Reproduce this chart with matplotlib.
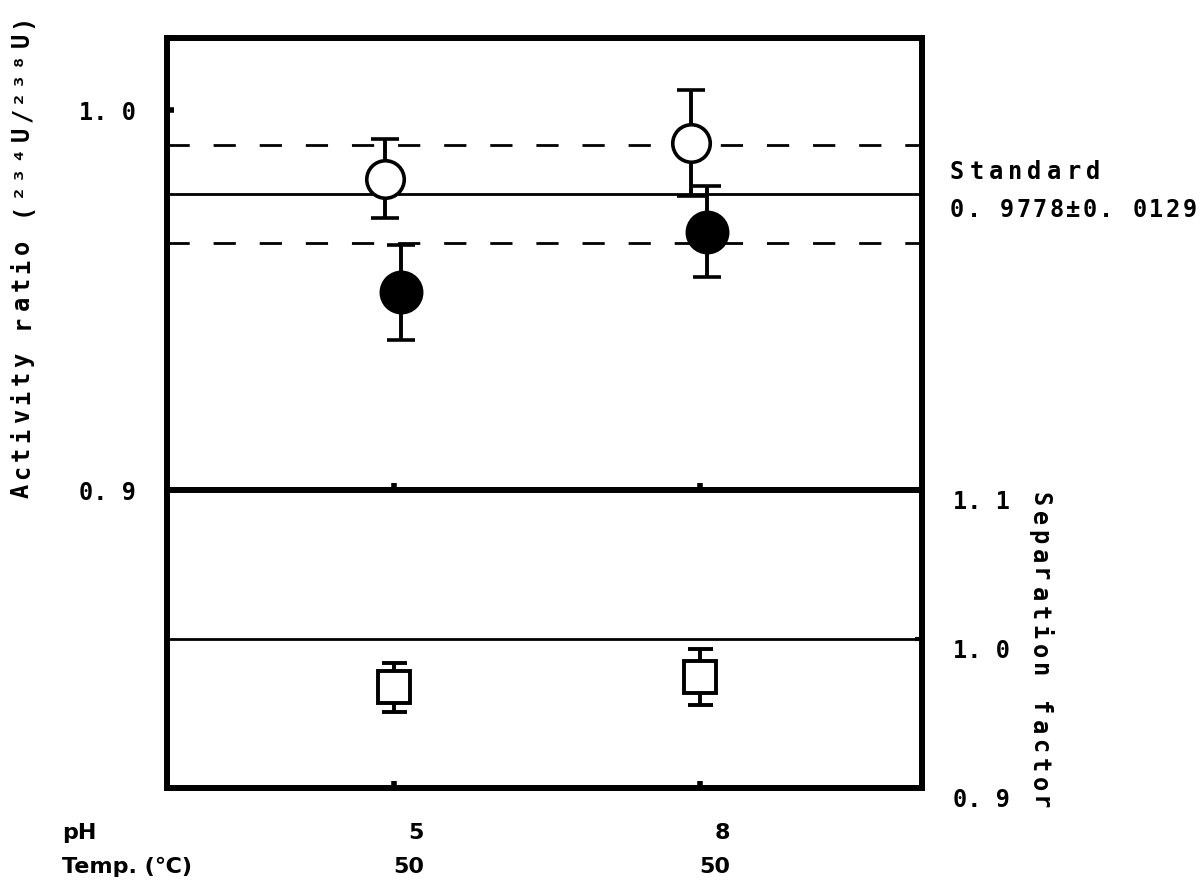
import matplotlib
matplotlib.use("Agg")
import matplotlib.pyplot as plt
from matplotlib import transforms as mtransforms

# conditions
x_pos = [1, 2]
ph_labels = ["5", "8"]
temp_labels = ["50", "50"]

# activity ratio 234U/238U
open_vals = [0.982, 0.9913]
open_err = [0.0104, 0.014]
filled_vals = [0.952, 0.968]
filled_err = [0.0125, 0.012]

# standard value and its spread
standard = 0.9778
standard_sd = 0.0129

# separation factor
sep_vals = [0.9675, 0.9745]
sep_err = [0.0165, 0.0185]

W, H = 1203, 885
MONO = ["DejaVu Sans Mono", "DejaVu Sans"]

fig = plt.figure(figsize=(W / 100, H / 100), dpi=100)
left, right = 167 / W, 922 / W
ax_top = fig.add_axes([left, (H - 490) / H, right - left, 452 / H])
ax_bot = fig.add_axes([left, (H - 788) / H, right - left, 298 / H])

for ax in (ax_top, ax_bot):
    for sp in ax.spines.values():
        sp.set_linewidth(4.3)
    ax.set_xlim(0.258, 2.725)
    ax.set_xticks(x_pos)
    ax.tick_params(axis="x", direction="in", length=5, width=4, labelbottom=False)

# upper panel: activity ratio
ax_top.set_ylim(0.9, 1.019)
ax_top.set_yticks([0.9, 1.0])
ax_top.set_yticklabels(["0. 9", "1. 0"], family=MONO, fontsize=17, weight="bold")
ax_top.tick_params(axis="y", direction="in", length=5, width=4, pad=22)

ax_top.axhline(standard, color="black", lw=2, zorder=1)
for v in (standard - standard_sd, standard + standard_sd):
    ax_top.axhline(v, color="black", lw=2, linestyle=(0, (8, 8.6)), zorder=1)

bar_kw = dict(ecolor="black", elinewidth=2.8, capsize=10, capthick=3.5, zorder=3)
ax_top.errorbar([x - 0.03 for x in x_pos], open_vals, yerr=open_err, fmt="o",
                ms=27, mfc="white", mec="black", mew=2.6, **bar_kw)
ax_top.errorbar([x + 0.023 for x in x_pos], filled_vals, yerr=filled_err, fmt="o",
                ms=29, mfc="black", mec="black", mew=2.6, **bar_kw)

# lower panel: separation factor
ax_bot.set_ylim(0.9, 1.1)
ax_bot.yaxis.tick_right()
ax_bot.set_yticks([0.9, 1.0, 1.1])
ax_bot.set_yticklabels(["0. 9", "1. 0", "1. 1"], family=MONO, fontsize=17,
                       weight="bold", va="top")
ax_bot.tick_params(axis="y", direction="in", length=5, width=3, pad=22)
ax_bot.axhline(1.0, color="black", lw=2, zorder=1)
ax_bot.errorbar(x_pos, sep_vals, yerr=sep_err, fmt="s", ms=23, mfc="white",
                mec="black", mew=2.8, ecolor="black", elinewidth=2.8,
                capsize=9, capthick=3.5, zorder=3)

# condition labels under each point, right-aligned a little past the tick
shift = mtransforms.ScaledTranslation(0.30, 0, fig.dpi_scale_trans)
trans = mtransforms.blended_transform_factory(ax_bot.transData, fig.transFigure) + shift
for x, ph, t in zip(x_pos, ph_labels, temp_labels):
    ax_bot.text(x, (H - 833) / H, ph, transform=trans, ha="right", va="center",
                fontsize=16, weight="bold")
    ax_bot.text(x, (H - 867) / H, t, transform=trans, ha="right", va="center",
                fontsize=16, weight="bold")
fig.text(62 / W, (H - 833) / H, "pH", ha="left", va="center", fontsize=16, weight="bold")
fig.text(62 / W, (H - 867) / H, "Temp. (\u2103)", ha="left", va="center",
         fontsize=16, weight="bold")


def typed(x, y, s, pitch, size=17, rotation=0):
    # typewriter-style text: one character per fixed pitch (pixels from top-left)
    for i, ch in enumerate(s):
        if rotation == 90:
            cx, cy = x, y - i * pitch
        elif rotation == 270:
            cx, cy = x, y + i * pitch
        else:
            cx, cy = x + i * pitch, y
        fig.text(cx / W, 1 - cy / H, ch, rotation=rotation, ha="center",
                 va="center", family=MONO, fontsize=size, weight="bold")


typed(957, 172, "Standard", 19.4)
typed(957, 210, "0. 9778\u00b10. 0129", 16.6)
typed(22, 491, "Activity ratio (\u00b2\u00b3\u2074U/\u00b2\u00b3\u2078U)", 18.8, rotation=90)
typed(1039, 499, "Separation factor", 19, rotation=270)

fig.savefig("out.png", dpi=100)
